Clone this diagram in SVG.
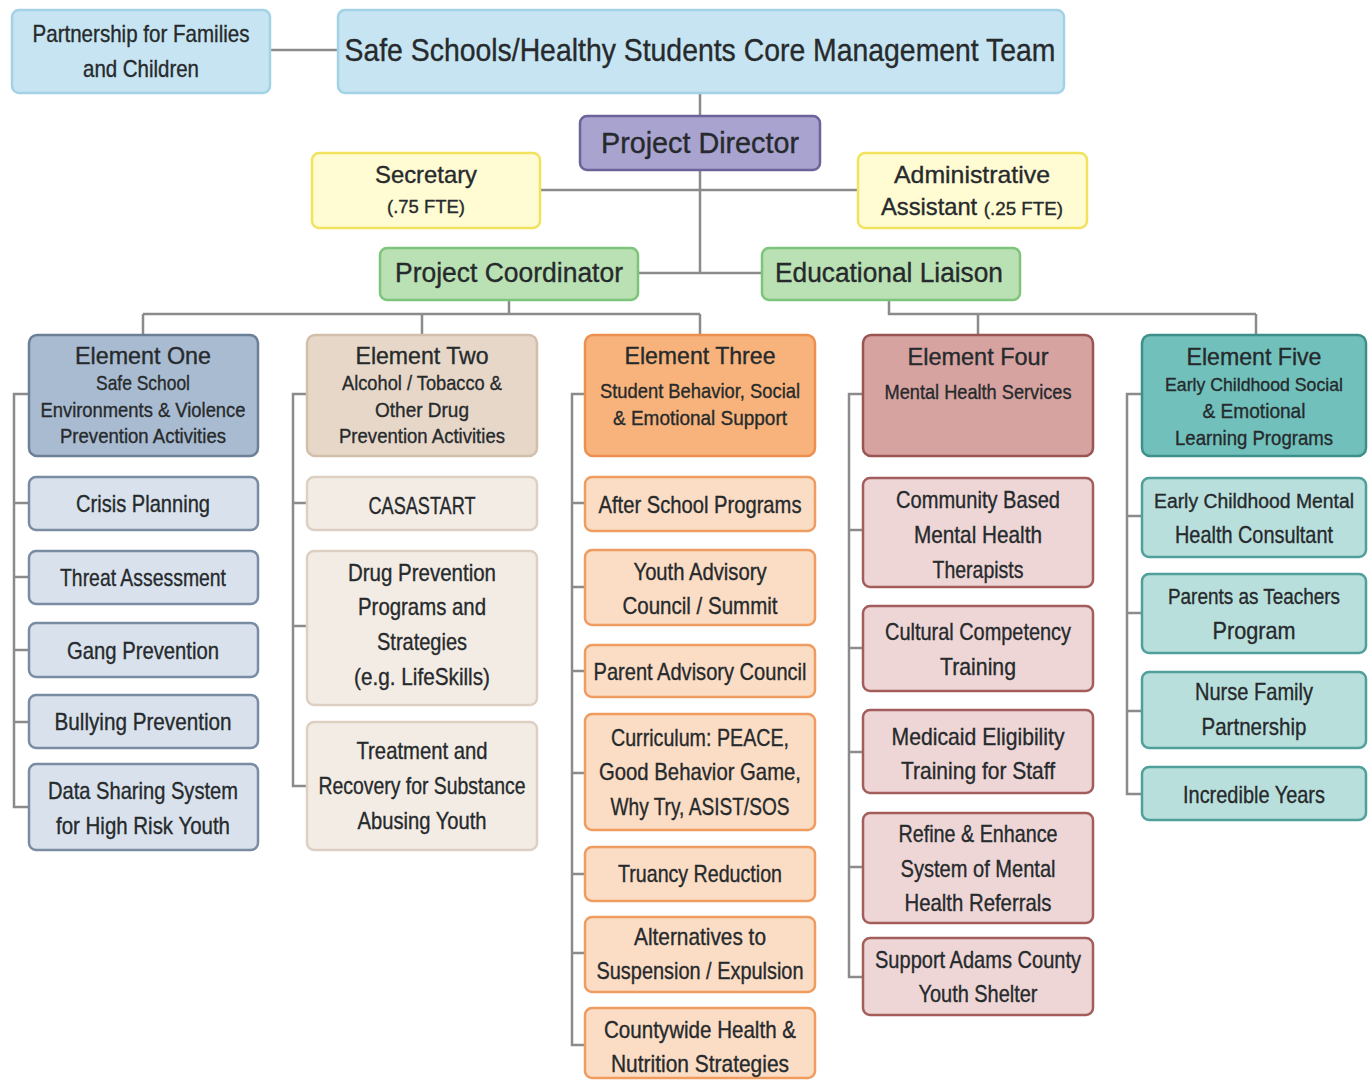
<svg xmlns="http://www.w3.org/2000/svg" width="1368" height="1081" viewBox="0 0 1368 1081">
<style>
text{font-family:"Liberation Sans",Arial,sans-serif;fill:#262a2c;stroke:#262a2c;stroke-width:0.35;text-anchor:middle}
.t{font-size:24px}
.h{font-size:24px}
.s{font-size:21px}
rect{stroke-width:2.5}
.top{fill:#c6e4f1;stroke:#a3d2e6}
.pur{fill:#a9a3d0;stroke:#6b6399}
.yel{fill:#fffbd2;stroke:#f2e35f}
.grn{fill:#b9e1b3;stroke:#7ec47b}
.e1h{fill:#a9bbd0;stroke:#6b7f96}
.e1{fill:#d9e2ec;stroke:#7a8ca3}
.e2h{fill:#e6d7c8;stroke:#d2bfab}
.e2{fill:#f3ece4;stroke:#ddd0c3}
.e3h{fill:#f7b37b;stroke:#ec8f4f}
.e3{fill:#fbdcc4;stroke:#ee9c60}
.e4h{fill:#d6a3a1;stroke:#9a5553}
.e4{fill:#eed6d6;stroke:#a35d5b}
.e5h{fill:#71c0bb;stroke:#3d8f8a}
.e5{fill:#b9dfdc;stroke:#4f9f9a}
.c{fill:none;stroke:#8b8b8b;stroke-width:2.5}
</style>
<g id="connectors">
<path class="c" d="M270 50H338 M700 93V116 M700 170V273 M540 190H858 M638 273H762 M509 300V314 M143 314H700 M143 314V335 M422 314V335 M700 314V335 M889 300V314H1256 M978 314V335 M1256 314V335"/>
<path class="c" d="M29 394H14V807H29 M14 503H29 M14 577H29 M14 650H29 M14 722H29"/>
<path class="c" d="M307 394H293V786H307 M293 503H307 M293 626H307"/>
<path class="c" d="M585 394H572V1045H585 M572 503H585 M572 587H585 M572 671H585 M572 773H585 M572 874H585 M572 953H585"/>
<path class="c" d="M863 394H849V977H863 M849 530H863 M849 648H863 M849 752H863 M849 867H863"/>
<path class="c" d="M1142 394H1127V794H1142 M1127 516H1142 M1127 613H1142 M1127 711H1142"/>
</g>
<g id="partnership"><rect class="top" x="12" y="10" width="258" height="83" rx="7"/><text class="h" x="141" y="42" textLength="217" lengthAdjust="spacingAndGlyphs">Partnership for Families</text><text class="h" x="141" y="77" textLength="116" lengthAdjust="spacingAndGlyphs">and Children</text></g>
<g id="core-team"><rect class="top" x="338" y="10" width="726" height="83" rx="7"/><text x="700" y="61" font-size="32" textLength="711" lengthAdjust="spacingAndGlyphs">Safe Schools/Healthy Students Core Management Team</text></g>
<g id="project-director"><rect class="pur" x="580" y="116" width="240" height="54" rx="7"/><text x="700" y="153" font-size="29" textLength="198" lengthAdjust="spacingAndGlyphs">Project Director</text></g>
<g id="secretary"><rect class="yel" x="312" y="153" width="228" height="75" rx="7"/><text class="h" x="426" y="183" textLength="102" lengthAdjust="spacingAndGlyphs">Secretary</text><text x="426" y="213" font-size="19" textLength="78" lengthAdjust="spacingAndGlyphs">(.75 FTE)</text></g>
<g id="admin-assistant"><rect class="yel" x="858" y="153" width="229" height="75" rx="7"/><text class="h" x="972" y="183" textLength="156" lengthAdjust="spacingAndGlyphs">Administrative</text><text class="h" x="972" y="215" textLength="182" lengthAdjust="spacingAndGlyphs">Assistant <tspan font-size="19">(.25 FTE)</tspan></text></g>
<g id="project-coordinator"><rect class="grn" x="380" y="248" width="258" height="52" rx="7"/><text x="509" y="282" font-size="27" textLength="228" lengthAdjust="spacingAndGlyphs">Project Coordinator</text></g>
<g id="educational-liaison"><rect class="grn" x="762" y="248" width="258" height="52" rx="7"/><text x="889" y="282" font-size="27" textLength="228" lengthAdjust="spacingAndGlyphs">Educational Liaison</text></g>

<g id="element-one"><rect class="e1h" x="29" y="335" width="229" height="121" rx="8"/><text class="h" x="143" y="364" textLength="136" lengthAdjust="spacingAndGlyphs">Element One</text><text class="s" x="143" y="390" textLength="94" lengthAdjust="spacingAndGlyphs">Safe School</text><text class="s" x="143" y="417" textLength="205" lengthAdjust="spacingAndGlyphs">Environments &amp; Violence</text><text class="s" x="143" y="443" textLength="166" lengthAdjust="spacingAndGlyphs">Prevention Activities</text></g>
<g id="crisis-planning"><rect class="e1" x="29" y="477" width="229" height="53" rx="7"/><text class="t" x="143" y="512" textLength="134" lengthAdjust="spacingAndGlyphs">Crisis Planning</text></g>
<g id="threat-assessment"><rect class="e1" x="29" y="551" width="229" height="53" rx="7"/><text class="t" x="143" y="586" textLength="166" lengthAdjust="spacingAndGlyphs">Threat Assessment</text></g>
<g id="gang-prevention"><rect class="e1" x="29" y="623" width="229" height="54" rx="7"/><text class="t" x="143" y="659" textLength="152" lengthAdjust="spacingAndGlyphs">Gang Prevention</text></g>
<g id="bullying-prevention"><rect class="e1" x="29" y="695" width="229" height="53" rx="7"/><text class="t" x="143" y="730" textLength="177" lengthAdjust="spacingAndGlyphs">Bullying Prevention</text></g>
<g id="data-sharing"><rect class="e1" x="29" y="764" width="229" height="86" rx="7"/><text class="t" x="143" y="799" textLength="190" lengthAdjust="spacingAndGlyphs">Data Sharing System</text><text class="t" x="143" y="834" textLength="174" lengthAdjust="spacingAndGlyphs">for High Risk Youth</text></g>

<g id="element-two"><rect class="e2h" x="307" y="335" width="230" height="121" rx="8"/><text class="h" x="422" y="364" textLength="133" lengthAdjust="spacingAndGlyphs">Element Two</text><text class="s" x="422" y="390" textLength="160" lengthAdjust="spacingAndGlyphs">Alcohol / Tobacco &amp;</text><text class="s" x="422" y="417" textLength="94" lengthAdjust="spacingAndGlyphs">Other Drug</text><text class="s" x="422" y="443" textLength="166" lengthAdjust="spacingAndGlyphs">Prevention Activities</text></g>
<g id="casastart"><rect class="e2" x="307" y="477" width="230" height="53" rx="7"/><text class="t" x="422" y="514" textLength="107" lengthAdjust="spacingAndGlyphs">CASASTART</text></g>
<g id="drug-prevention"><rect class="e2" x="307" y="551" width="230" height="154" rx="7"/><text class="t" x="422" y="581" textLength="148" lengthAdjust="spacingAndGlyphs">Drug Prevention</text><text class="t" x="422" y="615" textLength="128" lengthAdjust="spacingAndGlyphs">Programs and</text><text class="t" x="422" y="650" textLength="90" lengthAdjust="spacingAndGlyphs">Strategies</text><text class="t" x="422" y="685" textLength="136" lengthAdjust="spacingAndGlyphs">(e.g. LifeSkills)</text></g>
<g id="treatment-recovery"><rect class="e2" x="307" y="722" width="230" height="128" rx="7"/><text class="t" x="422" y="759" textLength="131" lengthAdjust="spacingAndGlyphs">Treatment and</text><text class="t" x="422" y="794" textLength="207" lengthAdjust="spacingAndGlyphs">Recovery for Substance</text><text class="t" x="422" y="829" textLength="129" lengthAdjust="spacingAndGlyphs">Abusing Youth</text></g>

<g id="element-three"><rect class="e3h" x="585" y="335" width="230" height="121" rx="8"/><text class="h" x="700" y="364" textLength="151" lengthAdjust="spacingAndGlyphs">Element Three</text><text class="s" x="700" y="398" textLength="200" lengthAdjust="spacingAndGlyphs">Student Behavior, Social</text><text class="s" x="700" y="425" textLength="174" lengthAdjust="spacingAndGlyphs">&amp; Emotional Support</text></g>
<g id="after-school"><rect class="e3" x="585" y="477" width="230" height="54" rx="7"/><text class="t" x="700" y="513" textLength="203" lengthAdjust="spacingAndGlyphs">After School Programs</text></g>
<g id="youth-advisory"><rect class="e3" x="585" y="550" width="230" height="75" rx="7"/><text class="t" x="700" y="580" textLength="133" lengthAdjust="spacingAndGlyphs">Youth Advisory</text><text class="t" x="700" y="614" textLength="155" lengthAdjust="spacingAndGlyphs">Council / Summit</text></g>
<g id="parent-advisory"><rect class="e3" x="585" y="645" width="230" height="52" rx="7"/><text class="t" x="700" y="680" textLength="213" lengthAdjust="spacingAndGlyphs">Parent Advisory Council</text></g>
<g id="curriculum"><rect class="e3" x="585" y="714" width="230" height="116" rx="7"/><text class="t" x="700" y="746" textLength="178" lengthAdjust="spacingAndGlyphs">Curriculum: PEACE,</text><text class="t" x="700" y="780" textLength="202" lengthAdjust="spacingAndGlyphs">Good Behavior Game,</text><text class="t" x="700" y="815" textLength="179" lengthAdjust="spacingAndGlyphs">Why Try, ASIST/SOS</text></g>
<g id="truancy"><rect class="e3" x="585" y="847" width="230" height="54" rx="7"/><text class="t" x="700" y="882" textLength="164" lengthAdjust="spacingAndGlyphs">Truancy Reduction</text></g>
<g id="alternatives"><rect class="e3" x="585" y="917" width="230" height="75" rx="7"/><text class="t" x="700" y="945" textLength="132" lengthAdjust="spacingAndGlyphs">Alternatives to</text><text class="t" x="700" y="979" textLength="207" lengthAdjust="spacingAndGlyphs">Suspension / Expulsion</text></g>
<g id="countywide"><rect class="e3" x="585" y="1008" width="230" height="70" rx="7"/><text class="t" x="700" y="1038" textLength="192" lengthAdjust="spacingAndGlyphs">Countywide Health &amp;</text><text class="t" x="700" y="1072" textLength="178" lengthAdjust="spacingAndGlyphs">Nutrition Strategies</text></g>

<g id="element-four"><rect class="e4h" x="863" y="335" width="230" height="121" rx="8"/><text class="h" x="978" y="365" textLength="141" lengthAdjust="spacingAndGlyphs">Element Four</text><text class="s" x="978" y="399" textLength="187" lengthAdjust="spacingAndGlyphs">Mental Health Services</text></g>
<g id="community-based"><rect class="e4" x="863" y="478" width="230" height="109" rx="7"/><text class="t" x="978" y="508" textLength="164" lengthAdjust="spacingAndGlyphs">Community Based</text><text class="t" x="978" y="543" textLength="128" lengthAdjust="spacingAndGlyphs">Mental Health</text><text class="t" x="978" y="578" textLength="91" lengthAdjust="spacingAndGlyphs">Therapists</text></g>
<g id="cultural-competency"><rect class="e4" x="863" y="606" width="230" height="85" rx="7"/><text class="t" x="978" y="640" textLength="186" lengthAdjust="spacingAndGlyphs">Cultural Competency</text><text class="t" x="978" y="675" textLength="76" lengthAdjust="spacingAndGlyphs">Training</text></g>
<g id="medicaid"><rect class="e4" x="863" y="710" width="230" height="83" rx="7"/><text class="t" x="978" y="745" textLength="173" lengthAdjust="spacingAndGlyphs">Medicaid Eligibility</text><text class="t" x="978" y="779" textLength="154" lengthAdjust="spacingAndGlyphs">Training for Staff</text></g>
<g id="refine-enhance"><rect class="e4" x="863" y="813" width="230" height="110" rx="7"/><text class="t" x="978" y="842" textLength="159" lengthAdjust="spacingAndGlyphs">Refine &amp; Enhance</text><text class="t" x="978" y="877" textLength="155" lengthAdjust="spacingAndGlyphs">System of Mental</text><text class="t" x="978" y="911" textLength="147" lengthAdjust="spacingAndGlyphs">Health Referrals</text></g>
<g id="adams-shelter"><rect class="e4" x="863" y="938" width="230" height="77" rx="7"/><text class="t" x="978" y="968" textLength="206" lengthAdjust="spacingAndGlyphs">Support Adams County</text><text class="t" x="978" y="1002" textLength="119" lengthAdjust="spacingAndGlyphs">Youth Shelter</text></g>

<g id="element-five"><rect class="e5h" x="1142" y="335" width="224" height="121" rx="8"/><text class="h" x="1254" y="365" textLength="135" lengthAdjust="spacingAndGlyphs">Element Five</text><text x="1254" y="391" font-size="19" textLength="178" lengthAdjust="spacingAndGlyphs">Early Childhood Social</text><text class="s" x="1254" y="418" textLength="103" lengthAdjust="spacingAndGlyphs">&amp; Emotional</text><text class="s" x="1254" y="445" textLength="158" lengthAdjust="spacingAndGlyphs">Learning Programs</text></g>
<g id="ec-mental-health"><rect class="e5" x="1142" y="478" width="224" height="79" rx="7"/><text x="1254" y="508" font-size="20" textLength="200" lengthAdjust="spacingAndGlyphs">Early Childhood Mental</text><text class="t" x="1254" y="543" textLength="158" lengthAdjust="spacingAndGlyphs">Health Consultant</text></g>
<g id="parents-teachers"><rect class="e5" x="1142" y="574" width="224" height="79" rx="7"/><text x="1254" y="604" font-size="22" textLength="172" lengthAdjust="spacingAndGlyphs">Parents as Teachers</text><text class="t" x="1254" y="639" textLength="83" lengthAdjust="spacingAndGlyphs">Program</text></g>
<g id="nurse-family"><rect class="e5" x="1142" y="672" width="224" height="76" rx="7"/><text class="t" x="1254" y="700" textLength="118" lengthAdjust="spacingAndGlyphs">Nurse Family</text><text class="t" x="1254" y="735" textLength="105" lengthAdjust="spacingAndGlyphs">Partnership</text></g>
<g id="incredible-years"><rect class="e5" x="1142" y="767" width="224" height="53" rx="7"/><text class="t" x="1254" y="803" textLength="142" lengthAdjust="spacingAndGlyphs">Incredible Years</text></g>
</svg>
